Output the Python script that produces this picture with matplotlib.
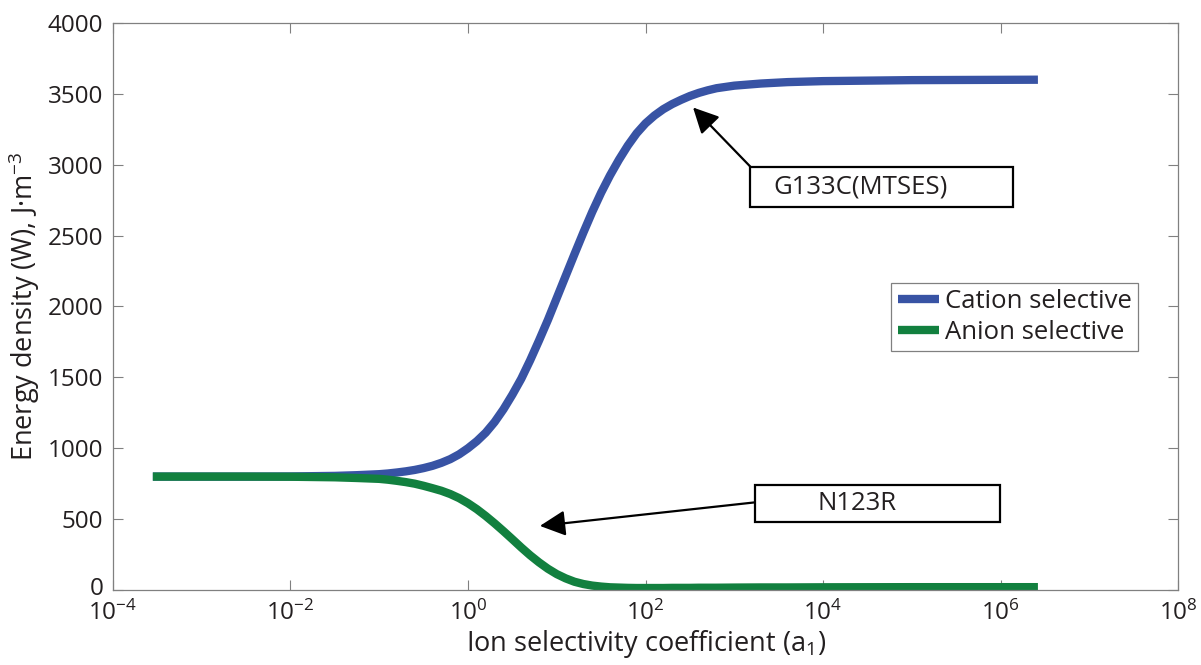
import matplotlib
matplotlib.use('Agg')
import matplotlib.pyplot as plt
import matplotlib.transforms as mtransforms
from matplotlib.patches import Rectangle
from matplotlib.ticker import NullLocator, FixedLocator
import numpy as np

plt.rcParams['font.family'] = ['Open Sans', 'DejaVu Sans']
plt.rcParams['mathtext.fontset'] = 'custom'
plt.rcParams['mathtext.rm'] = 'Open Sans'
plt.rcParams['mathtext.it'] = 'Open Sans:italic'

# values (x given as log10 of the coefficient)
log_a = [-3.55, -3.0, -2.5, -2.0, -1.5, -1.25,
         -1.0, -0.9, -0.8, -0.7, -0.6, -0.5, -0.4, -0.3, -0.2, -0.1,
         0.0, 0.1, 0.2, 0.3, 0.4, 0.5, 0.6, 0.7, 0.8, 0.9,
         1.0, 1.1, 1.2, 1.3, 1.4, 1.5, 1.6, 1.7, 1.8, 1.9,
         2.0, 2.1, 2.2, 2.3, 2.4, 2.5, 2.6, 2.7, 2.8,
         3.0, 3.3, 3.6, 4.0, 5.0, 6.42]
cation = [800, 800, 800, 801, 805, 810,
          817, 822, 829, 837, 847, 860, 876, 897, 923, 957,
          1000, 1050, 1110, 1185, 1275, 1378, 1490, 1620, 1760, 1905,
          2060, 2215, 2370, 2522, 2668, 2803, 2925, 3035, 3135, 3222,
          3292, 3347, 3392, 3428, 3458, 3485, 3507, 3525, 3540,
          3558, 3573, 3583, 3590, 3597, 3600]
anion = [800, 800, 800, 799, 795, 790,
         784, 778, 770, 761, 750, 735, 718, 700, 677, 648,
         612, 570, 522, 470, 415, 358, 300, 245, 195, 150,
         112, 82, 58, 42, 31, 24, 19, 17, 15, 14,
         14, 14, 14, 15, 15, 15, 16, 16, 16,
         17, 18, 18, 19, 20, 20]
series_labels = ['Cation selective', 'Anion selective']
a = 10.0 ** np.array(log_a)

BLUE = '#3853a4'
GREEN = '#12803f'
TXT = '#231f20'
SPINE = '#808080'

fig = plt.figure(figsize=(12.01, 6.65), dpi=100)
ax = fig.add_axes([0.094, 0.1128, 0.887, 0.8526])

ax.plot(a, cation, color=BLUE, lw=6, solid_capstyle='butt', solid_joinstyle='round',
        label=series_labels[0])
ax.plot(a, anion, color=GREEN, lw=6, solid_capstyle='butt', solid_joinstyle='round',
        label=series_labels[1])

ax.set_xscale('log')
ax.set_xlim(1e-4, 1e8)
ax.set_ylim(0, 4000)
ax.xaxis.set_major_locator(FixedLocator([1e-4, 1e-2, 1e0, 1e2, 1e4, 1e6, 1e8]))
ax.xaxis.set_minor_locator(NullLocator())
ax.set_yticks(np.arange(0, 4001, 500))

ax.tick_params(direction='in', length=7, width=0.8, color=SPINE, top=True, right=True,
               labelsize=17.5, labelcolor=TXT)
ax.tick_params(axis='x', pad=8)
ax.tick_params(axis='y', pad=7)
for s in ax.spines.values():
    s.set_color(SPINE)
    s.set_linewidth(0.9)

# nudge the "0" label up a little so it clears 10^-4 below it
zero_lab = ax.yaxis.get_major_ticks()[0].label1
zero_lab.set_transform(zero_lab.get_transform() +
                       mtransforms.ScaledTranslation(0, 3 / 72, fig.dpi_scale_trans))

ax.set_xlabel(r'Ion selectivity coefficient ($\mathdefault{a_1}$)', fontsize=19.5, color=TXT, labelpad=1)
ax.set_ylabel('Energy density (W), J·m$^{-3}$', fontsize=19.5, color=TXT, labelpad=4)

leg = ax.legend(loc='upper left', bbox_to_anchor=(0.7305, 0.5414), borderaxespad=0,
                fancybox=False, framealpha=1, edgecolor=SPINE, fontsize=18.5,
                handlelength=1.6, handletextpad=0.25, labelspacing=0.2,
                borderpad=0.25)
leg.get_frame().set_linewidth(0.9)
for t in leg.get_texts():
    t.set_color(TXT)

arrow_style = dict(arrowstyle='-|>,head_length=0.6,head_width=0.3', color='black', lw=1.6,
                   mutation_scale=26, shrinkA=0, shrinkB=0)

# annotation boxes (data coords: log x, energy y)
ax.add_patch(Rectangle((10 ** 3.18, 2705), 10 ** 6.14 - 10 ** 3.18, 282,
                       fill=False, ec='black', lw=1.6, zorder=5))
ax.text(10 ** 3.44, 2846, 'G133C(MTSES)', fontsize=18.5, color=TXT, va='center', ha='left', zorder=6)
ax.annotate('', xy=(10 ** 2.535, 3404), xytext=(10 ** 3.18, 2987), arrowprops=arrow_style)

ax.add_patch(Rectangle((10 ** 3.23, 480), 10 ** 5.99 - 10 ** 3.23, 262,
                       fill=False, ec='black', lw=1.6, zorder=5))
ax.text(10 ** 3.94, 611, 'N123R', fontsize=18.5, color=TXT, va='center', ha='left', zorder=6)
ax.annotate('', xy=(10 ** 0.81, 452), xytext=(10 ** 3.23, 618), arrowprops=arrow_style)

fig.savefig('out.png', dpi=100)
